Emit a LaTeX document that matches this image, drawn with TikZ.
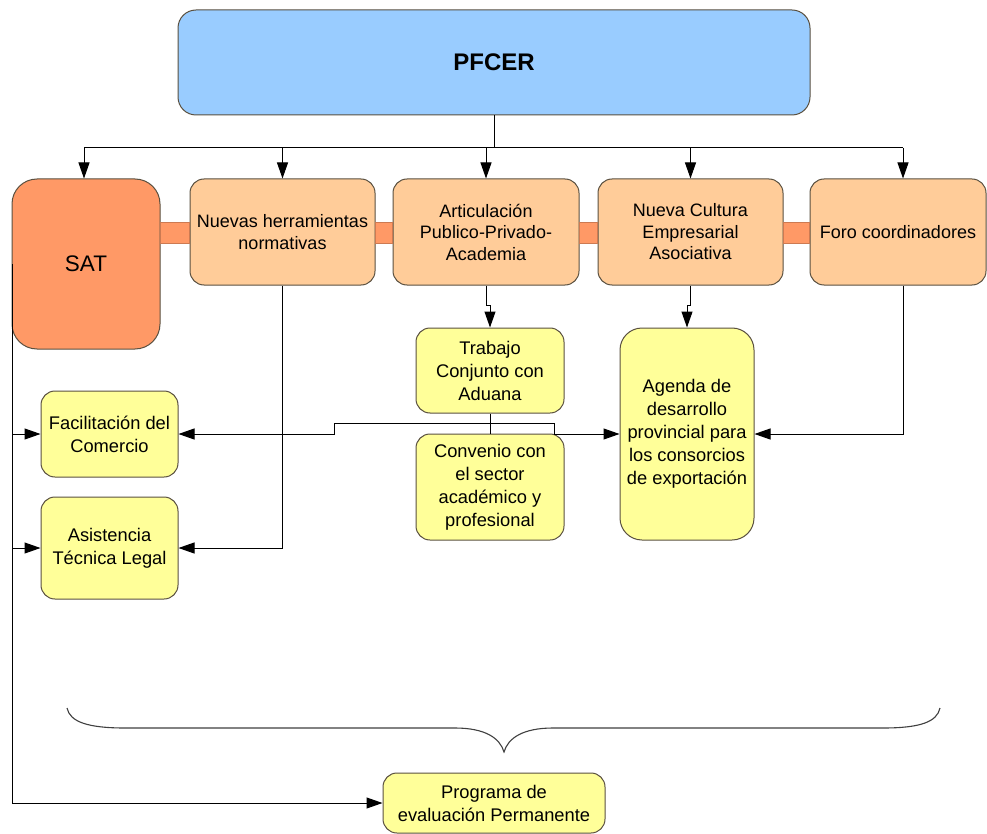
\documentclass[tikz,border=0pt]{standalone}
\usepackage{fontspec}
\setmainfont{Liberation Sans}
\usetikzlibrary{arrows.meta}
\definecolor{bluefill}{HTML}{99CCFF}
\definecolor{orfill}{HTML}{FFCC99}
\definecolor{satfill}{HTML}{FF9966}
\definecolor{yfill}{HTML}{FFFF99}
\definecolor{edge}{HTML}{5A5040}
\begin{document}
\begin{tikzpicture}[x=1pt,y=-1pt,
  box/.style={draw=edge, line width=1pt, rounded corners=14pt, inner sep=0pt, align=center,
    font=\fontsize{18}{21.5}\selectfont},
  obox/.style={box, fill=orfill},
  ybox/.style={box, fill=yfill, font=\fontsize{18.3}{23}\selectfont},
  bar/.style={fill=satfill, draw=satfill!80!black, line width=0.4pt},
  conn/.style={draw=black, line width=1pt},
  arr/.style={conn, -{Triangle[length=16pt,width=11pt]}},
  darr/.style={conn, {Triangle[length=16pt,width=11pt]}-{Triangle[length=16pt,width=11pt]}},
  brace/.style={draw=black!75, line width=1.1pt}
]
\useasboundingbox (0,0) rectangle (987,834);
\fill[white] (0,0) rectangle (987,834);

% nodes
\node[box, fill=bluefill, rounded corners=18pt, minimum width=632, minimum height=105,
  font=\fontsize{24}{28}\selectfont\bfseries] (pf) at (494,62.5) {PFCER};
\node[box, fill=satfill, rounded corners=25pt, minimum width=148, minimum height=170,
  font=\fontsize{22.5}{26}\selectfont] (sat) at (86,264) {SAT};
\node[obox, minimum width=185, minimum height=106] (nue) at (282.5,232) {Nuevas herramientas\\normativas};
\node[obox, minimum width=186, minimum height=106] (art) at (486,232) {Articulación\\Publico-Privado-\\Academia};
\node[obox, minimum width=185, minimum height=106] (nc) at (690.5,232) {Nueva Cultura\\Empresarial\\Asociativa};
\node[obox, minimum width=176, minimum height=106] (foro) at (898,232) {Foro coordinadores};

\node[ybox, minimum width=148, minimum height=85] (trab) at (490,370.5) {Trabajo\\Conjunto con\\Aduana};
\node[ybox, minimum width=148, minimum height=106] (conv) at (490,487) {Convenio con\\el sector\\académico y\\profesional};
\node[ybox, rounded corners=22pt, minimum width=134, minimum height=212] (ag) at (687,434) {Agenda de\\desarrollo\\provincial para\\los consorcios\\de exportación};
\node[ybox, minimum width=137, minimum height=86] (fac) at (109.5,434) {Facilitación del\\Comercio};
\node[ybox, minimum width=137, minimum height=102] (asis) at (109.5,548) {Asistencia\\Técnica Legal};
\node[ybox, minimum width=222, minimum height=60] (prog) at (494,803) {Programa de\\evaluación Permanente};

% bars between top boxes
\path[bar] (sat.east |- 0,222) rectangle (nue.west |- 0,243);
\path[bar] (nue.east |- 0,222) rectangle (art.west |- 0,243);
\path[bar] (art.east |- 0,222) rectangle (nc.west |- 0,243);
\path[bar] (nc.east |- 0,222) rectangle (foro.west |- 0,243);

% top distribution
\coordinate (busL) at (84,148);
\coordinate (busR) at (903,148);
\draw[conn] (pf.south) -- (pf.south |- busL);
\draw[conn] (busL) -- (busR);
\draw[arr] (busL) -- (busL |- sat.north);
\draw[arr] (nue.north |- busL) -- (nue.north);
\draw[arr] (art.north |- busL) -- (art.north);
\draw[arr] (nc.north |- busL) -- (nc.north);
\draw[arr] (busR) -- (busR |- foro.north);

% lower connectors
\draw[arr] (art.south) -- ++(0,20) -| (trab.north);
\draw[arr] (nc.south) -- ++(0,20) -| (ag.north);
\draw[conn] (trab.south) -- (conv.north);
\draw[darr] (fac.east) -- (334,434) -- (334,423) -- (554,423) -- (554,434) -- (ag.west);
\draw[arr] (busR |- foro.south) |- (ag.east);
\draw[arr] (nue.south) |- (asis.east);

% left line from SAT
\coordinate (lx) at (12,0);
\draw[arr] (lx |- sat.west) |- (prog.west);
\draw[arr] (lx |- fac.west) -- (fac.west);
\draw[arr] (lx |- asis.west) -- (asis.west);

% brace
\draw[brace] (67,708) .. controls (70,722) and (88,728) .. (125,728) -- (455,728)
  .. controls (485,728) and (500,738) .. (504,752)
  .. controls (508,738) and (523,728) .. (553,728) -- (883,728)
  .. controls (920,728) and (937,722) .. (940,708);
\end{tikzpicture}
\end{document}
